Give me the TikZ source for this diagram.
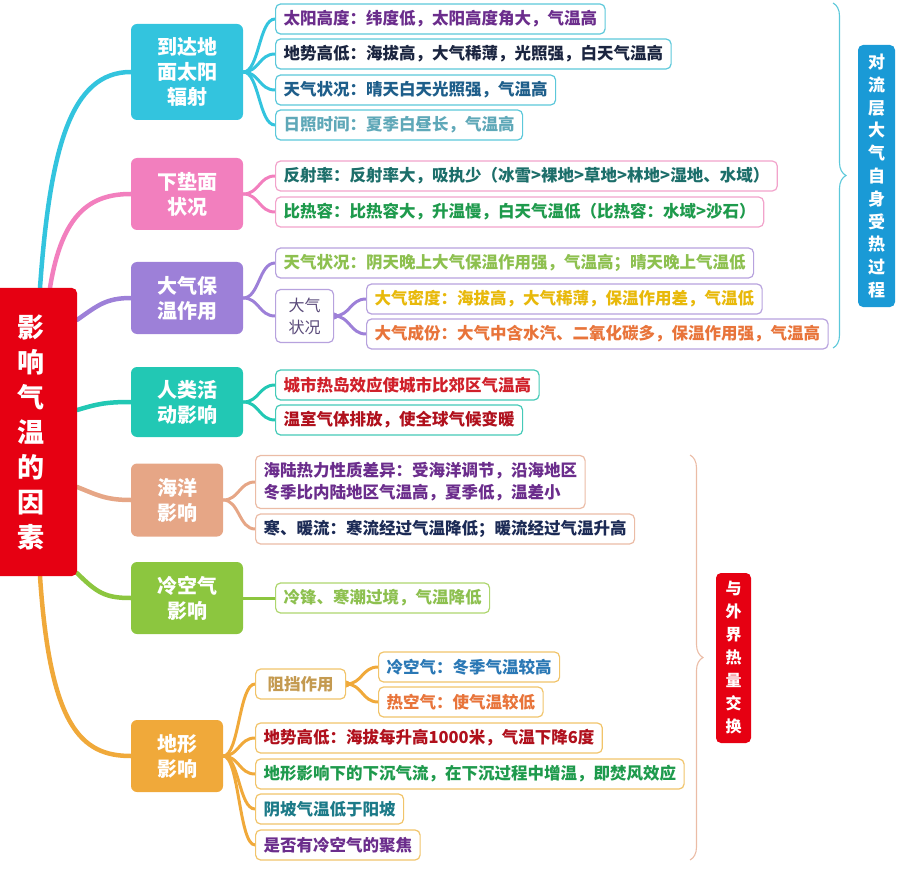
\documentclass[tikz,border=0pt]{standalone}
\usepackage{fontspec}
\setmainfont{Noto Sans CJK SC}
\usetikzlibrary{decorations.pathreplacing}
\pgfdeclarelayer{background}
\pgfsetlayers{background,main}
\definecolor{cRoot}{HTML}{E60012}
\definecolor{cB1}{HTML}{33C4DE}
\definecolor{cB2}{HTML}{F27FBE}
\definecolor{cB3}{HTML}{9D80D8}
\definecolor{cB4}{HTML}{22C8B4}
\definecolor{cB5}{HTML}{E6A686}
\definecolor{cB6}{HTML}{8CC63F}
\definecolor{cB7}{HTML}{F0A93A}
\definecolor{eB1}{HTML}{5CC8DA}
\definecolor{eB2}{HTML}{F2A3CB}
\definecolor{eB3}{HTML}{B7A2DE}
\definecolor{eB4}{HTML}{45CAB8}
\definecolor{eB5}{HTML}{EBBCA6}
\definecolor{eB6}{HTML}{AED66E}
\definecolor{eB7}{HTML}{F1C46A}
\definecolor{tPurple}{HTML}{6B2D8C}
\definecolor{tNavy}{HTML}{1B2540}
\definecolor{tBlue}{HTML}{1E5E8A}
\definecolor{tLteal}{HTML}{5FA8B8}
\definecolor{tDteal}{HTML}{1C6E6A}
\definecolor{tGreen}{HTML}{1E9A4C}
\definecolor{tLgreen}{HTML}{8DC04F}
\definecolor{tGray}{HTML}{5A4A7A}
\definecolor{tGold}{HTML}{E8B90A}
\definecolor{tOrange}{HTML}{E8743A}
\definecolor{tRed}{HTML}{D0202A}
\definecolor{tDred}{HTML}{B0101C}
\definecolor{tNavy2}{HTML}{1B2A55}
\definecolor{tTan}{HTML}{C49A50}
\definecolor{tSky}{HTML}{2A78B5}
\definecolor{tTeal}{HTML}{1C7A88}
\definecolor{cLab1}{HTML}{1A9AD6}
\tikzset{
  branch/.style={rounded corners=6pt, fill=#1, text=white, align=center,
    font=\bfseries\fontsize{20}{25}\selectfont, inner sep=0pt},
  leaf/.style={draw=#1, rounded corners=5pt, fill=white, line width=1.2pt,
    anchor=west, minimum height=30pt, inner xsep=8pt, inner ysep=0pt,
    font=\bfseries\fontsize{16.5}{20}\selectfont},
  trunk/.style={draw=#1, line width=4.5pt, line cap=round},
  fork/.style={draw=#1, line width=3pt, line cap=round},
  vlabel/.style={rounded corners=5pt, fill=#1, text=white, align=center, inner sep=0pt},
  bracebar/.style={draw=#1, line width=1.1pt, decorate, decoration={brace, amplitude=13pt}}
}
\begin{document}
\begin{tikzpicture}[x=1pt,y=-1pt]
\useasboundingbox (0,0) rectangle (900,869);
\clip (0,0) rectangle (900,869);
% root
\node[vlabel=cRoot, minimum width=92pt, minimum height=288pt,
  font=\bfseries\fontsize{27}{35}\selectfont] (root) at (31,432)
  {影\\响\\气\\温\\的\\因\\素};
% branches
\node[branch=cB1, minimum width=112pt, minimum height=96pt] (b1) at (187,72) {到达地\\面太阳\\辐射};
\node[branch=cB2, minimum width=112pt, minimum height=72pt] (b2) at (187,194) {下垫面\\状况};
\node[branch=cB3, minimum width=112pt, minimum height=72pt] (b3) at (187,298) {大气保\\温作用};
\node[branch=cB4, minimum width=112pt, minimum height=70pt] (b4) at (187,402) {人类活\\动影响};
\node[branch=cB5, minimum width=92pt, minimum height=73pt] (b5) at (177,500) {海洋\\影响};
\node[branch=cB6, minimum width=112pt, minimum height=72pt] (b6) at (187,598) {冷空气\\影响};
\node[branch=cB7, minimum width=92pt, minimum height=72pt] (b7) at (177,756) {地形\\影响};
% leaves branch 1
\node[leaf=eB1, text=tPurple] (l11) at (275,19) {太阳高度：纬度低，太阳高度角大，气温高};
\node[leaf=eB1, text=tNavy] (l12) at (275,54) {地势高低：海拔高，大气稀薄，光照强，白天气温高};
\node[leaf=eB1, text=tBlue] (l13) at (275,90) {天气状况：晴天白天光照强，气温高};
\node[leaf=eB1, text=tLteal] (l14) at (275,125) {日照时间：夏季白昼长，气温高};
% branch 2
\node[leaf=eB2, text=tDteal] (l21) at (275,176) {反射率：反射率大，吸执少（冰雪>裸地>草地>林地>湿地、水域）};
\node[leaf=eB2, text=tGreen] (l22) at (275,212) {比热容：比热容大，升温慢，白天气温低（比热容：水域>沙石）};
% branch 3
\node[leaf=eB3, text=tLgreen] (l31) at (275,263) {天气状况：阴天晚上大气保温作用强，气温高；晴天晚上气温低};
\node[leaf=eB3, text=tGray, minimum height=53pt, minimum width=58pt, inner xsep=0pt, align=center,
  font=\fontsize{16}{22}\selectfont] (l32) at (275,316) {大气\\状况};
\node[leaf=eB3, text=tGold] (l33) at (366,299) {大气密度：海拔高，大气稀薄，保温作用差，气温低};
\node[leaf=eB3, text=tOrange] (l34) at (366,334) {大气成份：大气中含水汽、二氧化碳多，保温作用强，气温高};
% branch 4
\node[leaf=eB4, text=tRed] (l41) at (275,385) {城市热岛效应使城市比郊区气温高};
\node[leaf=eB4, text=tDred] (l42) at (275,420) {温室气体排放，使全球气候变暖};
% branch 5
\node[leaf=eB5, text=tPurple, align=left, minimum height=53pt,
  font=\bfseries\fontsize{16.5}{22}\selectfont] (l51) at (255,482)
  {海陆热力性质差异：受海洋调节，沿海地区\\冬季比内陆地区气温高，夏季低，温差小};
\node[leaf=eB5, text=tNavy2] (l52) at (255,529) {寒、暖流：寒流经过气温降低；暖流经过气温升高};
% branch 6
\node[leaf=eB6, text=tLgreen] (l61) at (275,598) {冷锋、寒潮过境，气温降低};
% branch 7
\node[leaf=eB7, text=tTan, minimum width=90pt] (l71) at (255,684) {阻挡作用};
\node[leaf=eB7, text=tSky] (l72) at (378,667) {冷空气：冬季气温较高};
\node[leaf=eB7, text=tOrange] (l73) at (378,702) {热空气：使气温较低};
\node[leaf=eB7, text=tDred] (l74) at (255,738) {地势高低：海拔每升高1000米，气温下降6度};
\node[leaf=eB7, text=tGreen] (l75) at (255,774) {地形影响下的下沉气流，在下沉过程中增温，即焚风效应};
\node[leaf=eB7, text=tTeal] (l76) at (255,809) {阴坡气温低于阳坡};
\node[leaf=eB7, text=tPurple] (l77) at (255,845) {是否有冷空气的聚焦};
% right labels
\node[vlabel=cLab1, minimum width=37pt, minimum height=262pt,
  font=\bfseries\fontsize{17}{22.8}\selectfont] (lab1) at (876.5,176)
  {对\\流\\层\\大\\气\\自\\身\\受\\热\\过\\程};
\node[vlabel=cRoot, minimum width=35pt, minimum height=170pt,
  font=\bfseries\fontsize{16}{23}\selectfont] (lab2) at (733.5,658)
  {与\\外\\界\\热\\量\\交\\换};
% braces
\coordinate (br1a) at (833,3);
\coordinate (br1b) at (833,348);
\coordinate (br2a) at (690,455);
\coordinate (br2b) at (690,860);
\draw[bracebar=eB1] (br1a) -- (br1b);
\draw[bracebar=eB5] (br2a) -- (br2b);
% connectors
\begin{pgfonlayer}{background}
\draw[trunk=cB1] ([xshift=9pt]root.north) .. controls +(10,-140) and +(-60,0) .. (b1.west);
\draw[trunk=cB2] ([xshift=19pt]root.north) .. controls +(12,-75) and +(-40,0) .. (b2.west);
\draw[trunk=cB3] ([yshift=-32pt]root.north east) .. controls +(20,-14) and +(-25,0) .. (b3.west);
\draw[trunk=cB4] ([yshift=22pt]root.east) .. controls +(20,-6) and +(-25,0) .. (b4.west);
\draw[trunk=cB5] ([yshift=-55pt]root.east) .. controls +(20,8) and +(-25,0) .. (b5.west);
\draw[trunk=cB6] ([yshift=3pt]root.south east) .. controls +(20,20) and +(-25,0) .. (b6.west);
\draw[trunk=cB7] ([xshift=9pt]root.south) .. controls +(10,150) and +(-50,0) .. (b7.west);
\foreach \l in {l11,l12,l13,l14}
  \draw[fork=cB1] (b1.east) .. controls +(16,0) and +(-16,0) .. (\l.west);
\foreach \l in {l21,l22}
  \draw[fork=cB2] (b2.east) .. controls +(16,0) and +(-16,0) .. (\l.west);
\foreach \l in {l31,l32}
  \draw[fork=cB3] (b3.east) .. controls +(16,0) and +(-16,0) .. (\l.west);
\foreach \l in {l33,l34}
  \draw[fork=cB3] (l32.east) .. controls +(16,0) and +(-16,0) .. (\l.west);
\fill[cB3] (l32.east) circle (3.5pt);
\foreach \l in {l41,l42}
  \draw[fork=cB4] (b4.east) .. controls +(16,0) and +(-16,0) .. (\l.west);
\foreach \l in {l51,l52}
  \draw[fork=cB5] (b5.east) .. controls +(16,0) and +(-16,0) .. (\l.west);
\draw[fork=cB6] (b6.east) -- (l61.west);
\foreach \l in {l71,l74,l75,l76,l77}
  \draw[fork=cB7] (b7.east) .. controls +(16,0) and +(-16,0) .. (\l.west);
\foreach \l in {l72,l73}
  \draw[fork=cB7] (l71.east) .. controls +(16,0) and +(-16,0) .. (\l.west);
\fill[cB7] (l71.east) circle (3.5pt);
\end{pgfonlayer}
\end{tikzpicture}
\end{document}
